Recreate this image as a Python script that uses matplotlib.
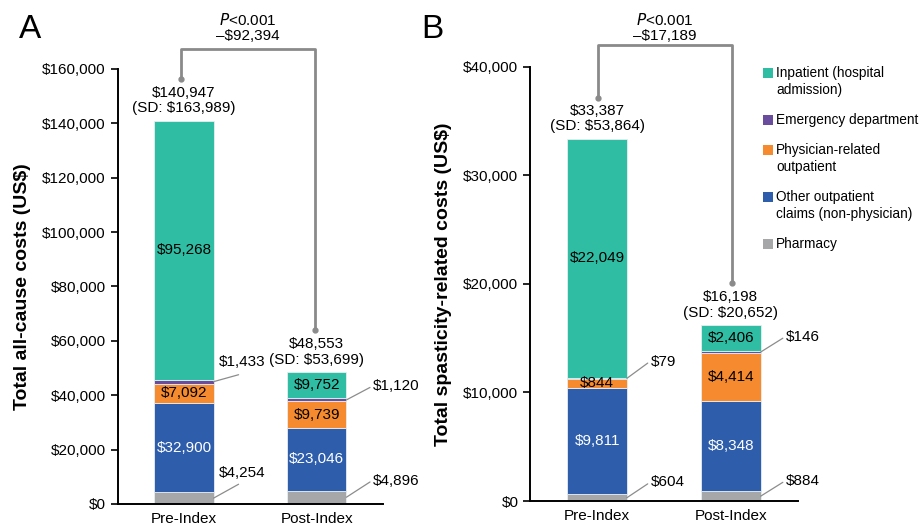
import matplotlib.pyplot as plt
from matplotlib.patches import Rectangle

plt.rcParams['font.family'] = ['Liberation Sans', 'DejaVu Sans']

groups = ['Pre-Index', 'Post-Index']
categories = ['Pharmacy', 'Other outpatient\nclaims (non-physician)',
              'Physician-related\noutpatient', 'Emergency department',
              'Inpatient (hospital\nadmission)']
colors = ['#a5a7a9', '#2d5dab', '#f58a2f', '#6b4d9e', '#2fbea4']

# all-cause costs, stacked bottom to top
allcause_pre = [4254, 32900, 7092, 1433, 95268]
allcause_post = [4896, 23046, 9739, 1120, 9752]
allcause_sd = [163989, 53699]
allcause_diff = '\u2013$92,394'

# spasticity-related costs
spast_pre = [604, 9811, 844, 79, 22049]
spast_post = [884, 8348, 4414, 146, 2406]
spast_sd = [53864, 20652]
spast_diff = '\u2013$17,189'

pval = '<0.001'

fig = plt.figure(figsize=(9.19, 5.26), dpi=100)
axA = fig.add_axes([0.128, 0.042, 0.289, 0.827])
axB = fig.add_axes([0.577, 0.0475, 0.291, 0.8255])

W = 0.445
fx = lambda p: p / 919
fy = lambda p: 1 - p / 526


def money(v):
    return '${:,}'.format(v)


def side_label(ax, x, y, txt, dx, dy, tdx, tdy):
    # leader line from bar edge, then label
    ax.annotate('', xy=(x, y), xytext=(dx, dy), textcoords='offset points',
                arrowprops=dict(arrowstyle='-', color='#8c8c8c', lw=0.9,
                                shrinkA=0, shrinkB=0))
    ax.annotate(txt, xy=(x, y), xytext=(tdx, tdy), textcoords='offset points',
                ha='left', va='center', fontsize=11)


def draw_panel(ax, pre, post, sd, ymax, step, ylabel, inside_idx, out_pre, out_post):
    for xi, vals in enumerate([pre, post]):
        bottom = 0
        mids = []
        for k, v in enumerate(vals):
            ax.bar(xi, v, W, bottom=bottom, color=colors[k], edgecolor='#e8eef0', linewidth=0.6)
            mids.append(bottom + v / 2)
            bottom += v
        for k in inside_idx:
            c = 'white' if k == 1 else 'black'
            ax.text(xi, mids[k], money(vals[k]), ha='center', va='center', fontsize=11, color=c)
        offs = out_pre if xi == 0 else out_post
        for k in (0, 3):
            dx, dy, tdx, tdy = offs[k]
            side_label(ax, xi + W / 2, mids[k], money(vals[k]), dx, dy, tdx, tdy)
        total = sum(vals)
        ax.text(xi, total + ymax * 0.012, '{}\n(SD: {})'.format(money(total), money(sd[xi])),
                ha='center', va='bottom', fontsize=11, linespacing=1.15)

    ax.set_xlim(-0.5, 1.5)
    ax.set_ylim(0, ymax)
    ax.set_yticks(range(0, ymax + 1, step))
    ax.set_yticklabels([money(t) for t in range(0, ymax + 1, step)])
    ax.set_xticks([0, 1])
    ax.set_xticklabels(groups)
    ax.tick_params(axis='x', length=0, labelsize=11, pad=6)
    ax.tick_params(axis='y', length=5, labelsize=11, width=1.2)
    for s in ('top', 'right'):
        ax.spines[s].set_visible(False)
    for s in ('left', 'bottom'):
        ax.spines[s].set_linewidth(1.4)
    ax.set_ylabel(ylabel, fontsize=14, fontweight='bold', labelpad=8)


draw_panel(axA, allcause_pre, allcause_post, allcause_sd, 160000, 20000,
           'Total all-cause costs (US$)', [4, 2, 1],
           {0: (18, 10, 4, 18), 3: (18, 5, 4, 14)},
           {0: (17, 11, 19, 12), 3: (17, 9, 19, 10)})
draw_panel(axB, spast_pre, spast_post, spast_sd, 40000, 10000,
           'Total spasticity-related costs (US$)', [4, 2, 1],
           {0: (15, 10, 17, 11), 3: (15, 11, 17, 12)},
           {0: (16, 10, 18, 11), 3: (16, 10, 18, 11)})


def bracket(x0, y0, x1, y1, ytop, xt, diff):
    kw = dict(color='#8a8a8a', lw=2, transform=fig.transFigure, clip_on=False)
    fig.add_artist(plt.Line2D([fx(x0), fx(x0), fx(x1), fx(x1)],
                              [fy(y0), fy(ytop), fy(ytop), fy(y1)], **kw))
    fig.add_artist(plt.Line2D([fx(x0), fx(x1)], [fy(y0), fy(y1)], marker='o', ms=3.5,
                              ls='none', color='#8a8a8a', transform=fig.transFigure))
    fig.text(fx(xt), fy(20), '$P$' + pval, ha='center', va='center', fontsize=11)
    fig.text(fx(xt), fy(36), diff, ha='center', va='center', fontsize=11)


bracket(181, 79, 315, 330, 49, 248, allcause_diff)
bracket(598, 98, 732, 283, 45, 665, spast_diff)

fig.text(30 / 919, 1 - 30 / 526, 'A', fontsize=24, ha='center', va='center')
fig.text(432 / 919, 1 - 30 / 526, 'B', fontsize=24, ha='center', va='center')

# legend drawn by hand: square + label lines, top entry first
y = 73
for k in range(4, -1, -1):
    fig.add_artist(Rectangle((fx(763), fy(y + 5)), 10 / 919, 10 / 526,
                             facecolor=colors[k], edgecolor='none',
                             transform=fig.transFigure))
    lines = categories[k].split('\n')
    for j, ln in enumerate(lines):
        fig.text(fx(776), fy(y + 17 * j), ln, ha='left', va='center', fontsize=9.8)
    y += 17 * (len(lines) - 1) + 30

fig.savefig('out.png', dpi=100)
